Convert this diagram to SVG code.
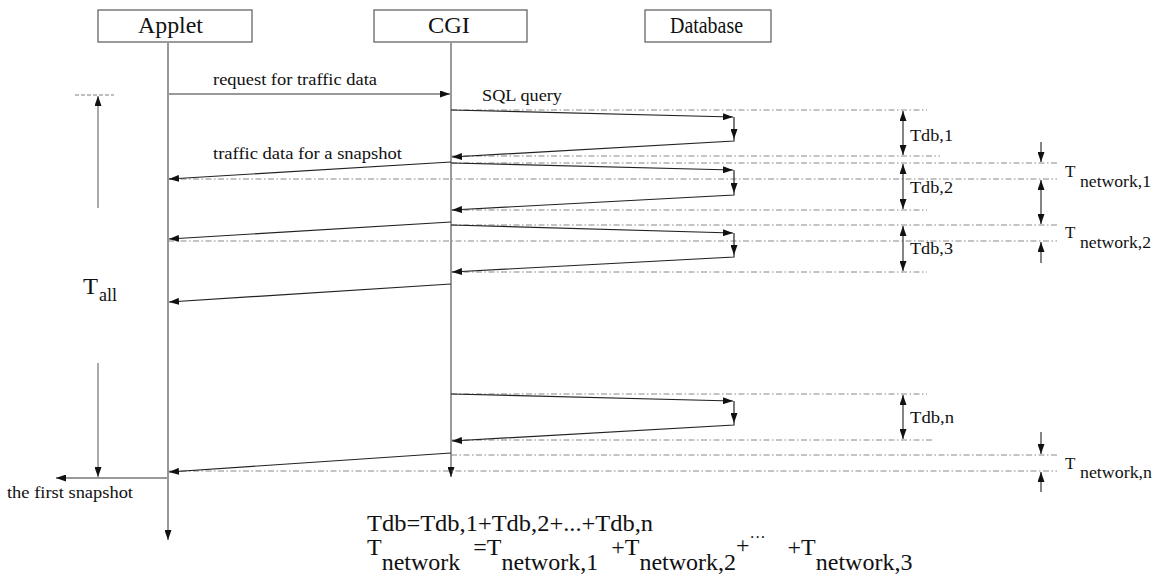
<svg xmlns="http://www.w3.org/2000/svg" width="1159" height="575" viewBox="0 0 1159 575" font-family="'Liberation Serif', 'Times New Roman', serif">
  <style>
    text { font-family: "Liberation Serif", "Times New Roman", serif; fill: #111; }
    .box { fill: #fff; stroke: #666; stroke-width: 1.3; }
    .life { fill: none; stroke: #999; stroke-width: 2; }
    .msg { fill: none; stroke: #222; stroke-width: 1.2; }
    .grid { fill: none; stroke: #888; stroke-width: 1; stroke-dasharray: 6 2.5 1.5 2.5; }
    .span { fill: none; stroke: #333; stroke-width: 1.2; }
    .title { font-size: 24px; }
    .lbl { font-size: 16px; }
    .tdb { font-size: 16px; }
    .f { font-size: 24px; }
  </style>
  <defs>
    <marker id="ah" markerUnits="userSpaceOnUse" markerWidth="10" markerHeight="7" refX="10" refY="3.5" orient="auto-start-reverse">
      <path d="M0,0 L10,3.5 L0,7 z" fill="#111"/>
    </marker>
  </defs>

  <!-- participants -->
  <g id="applet">
    <rect class="box" x="98" y="10" width="154" height="32"/>
    <text class="title" x="138" y="33" textLength="65" lengthAdjust="spacingAndGlyphs">Applet</text>
    <path class="life" d="M168,42 V540" stroke="#888" stroke-width="1.6" marker-end="url(#ah)"/>
  </g>
  <g id="cgi">
    <rect class="box" x="374" y="10" width="153" height="32"/>
    <text class="title" x="428" y="33" textLength="42" lengthAdjust="spacingAndGlyphs">CGI</text>
    <path class="life" d="M451,42 V477" stroke="#aaa" stroke-width="2.2" marker-end="url(#ah)"/>
  </g>
  <g id="database">
    <rect class="box" x="645" y="10" width="126" height="32"/>
    <text class="title" x="670" y="33" textLength="73" lengthAdjust="spacingAndGlyphs">Database</text>
  </g>

  <!-- reference lines for the timing spans -->
  <g id="timing-lines">
    <path class="grid" d="M451,110 H927"/>
    <path class="grid" d="M451,156 H940"/>
    <path class="grid" d="M451,163 H1057"/>
    <path class="grid" d="M168,179 H1057"/>
    <path class="grid" d="M451,210 H927"/>
    <path class="grid" d="M451,225 H1057"/>
    <path class="grid" d="M168,241 H1057"/>
    <path class="grid" d="M451,272 H927"/>
    <path class="grid" d="M451,394 H927"/>
    <path class="grid" d="M451,440 H933"/>
    <path class="grid" d="M451,455 H1057"/>
    <path class="grid" d="M168,471 H1057"/>
    <path d="M75,95 H114" fill="none" stroke="#aaa" stroke-width="1.5" stroke-dasharray="4 2"/>
  </g>

  <!-- messages -->
  <g id="connectors">
    <path d="M168,94 H450" fill="none" stroke="#999" stroke-width="2" marker-end="url(#ah)"/>
    <text class="lbl" x="213" y="85" textLength="164" lengthAdjust="spacingAndGlyphs">request for traffic data</text>
    <text x="482" y="101" font-size="17" textLength="80" lengthAdjust="spacingAndGlyphs">SQL query</text>

    <!-- query 1 -->
    <path class="msg" d="M451,110 L733,117" marker-end="url(#ah)"/>
    <path class="msg" d="M734,117 V139" marker-end="url(#ah)"/>
    <path class="msg" d="M734,139 V141 L452,157" marker-end="url(#ah)"/>
    <!-- query 2 -->
    <path class="msg" d="M451,163 L733,170" marker-end="url(#ah)"/>
    <path class="msg" d="M734,170 V193" marker-end="url(#ah)"/>
    <path class="msg" d="M734,193 V195 L452,210" marker-end="url(#ah)"/>
    <!-- query 3 -->
    <path class="msg" d="M451,225 L733,233" marker-end="url(#ah)"/>
    <path class="msg" d="M734,233 V255" marker-end="url(#ah)"/>
    <path class="msg" d="M734,255 V257 L452,272" marker-end="url(#ah)"/>
    <!-- query n -->
    <path class="msg" d="M451,394 L733,401" marker-end="url(#ah)"/>
    <path class="msg" d="M734,401 V423" marker-end="url(#ah)"/>
    <path class="msg" d="M734,423 V425 L452,441" marker-end="url(#ah)"/>

    <!-- snapshots sent back to the applet -->
    <path class="msg" d="M451,162 L169,179" marker-end="url(#ah)"/>
    <text class="lbl" x="213" y="159" textLength="189" lengthAdjust="spacingAndGlyphs">traffic data for a snapshot</text>
    <path class="msg" d="M451,222 L169,239" marker-end="url(#ah)"/>
    <path class="msg" d="M451,284 L169,302" marker-end="url(#ah)"/>
    <path class="msg" d="M451,453 L169,472" marker-end="url(#ah)"/>

    <path d="M168,478 H56" fill="none" stroke="#999" stroke-width="2" marker-end="url(#ah)"/>
    <text class="lbl" x="7" y="498" textLength="126" lengthAdjust="spacingAndGlyphs">the first snapshot</text>
  </g>

  <!-- overall time -->
  <g id="t-all">
    <path d="M98,208 V96" fill="none" stroke="#aaa" stroke-width="2" marker-end="url(#ah)"/>
    <path d="M98,363 V477" fill="none" stroke="#aaa" stroke-width="2" marker-end="url(#ah)"/>
    <text x="83" y="294" font-size="24" textLength="15" lengthAdjust="spacingAndGlyphs">T</text>
    <text x="99" y="301" font-size="18" textLength="18" lengthAdjust="spacingAndGlyphs">all</text>
  </g>

  <!-- database time spans -->
  <g id="t-db">
    <path class="span" d="M903,111 V155" marker-start="url(#ah)" marker-end="url(#ah)"/>
    <text class="tdb" x="910" y="141" textLength="43" lengthAdjust="spacingAndGlyphs">Tdb,1</text>
    <path class="span" d="M903,164 V209" marker-start="url(#ah)" marker-end="url(#ah)"/>
    <text class="tdb" x="910" y="193" textLength="43" lengthAdjust="spacingAndGlyphs">Tdb,2</text>
    <path class="span" d="M903,226 V271" marker-start="url(#ah)" marker-end="url(#ah)"/>
    <text class="tdb" x="910" y="254" textLength="43" lengthAdjust="spacingAndGlyphs">Tdb,3</text>
    <path class="span" d="M903,395 V439" marker-start="url(#ah)" marker-end="url(#ah)"/>
    <text class="tdb" x="910" y="423" textLength="44" lengthAdjust="spacingAndGlyphs">Tdb,n</text>
  </g>

  <!-- network time spans -->
  <g id="t-network">
    <path class="span" d="M1041,142 V162" marker-end="url(#ah)"/>
    <path class="span" d="M1041,180 V224" marker-start="url(#ah)" marker-end="url(#ah)"/>
    <path class="span" d="M1041,263 V242" marker-end="url(#ah)"/>
    <path class="span" d="M1041,432 V454" marker-end="url(#ah)"/>
    <path class="span" d="M1041,492 V472" marker-end="url(#ah)"/>
    <text x="1065" y="177" font-size="17">T</text>
    <text class="tdb" x="1080" y="187" textLength="71" lengthAdjust="spacingAndGlyphs">network,1</text>
    <text x="1065" y="238" font-size="17">T</text>
    <text class="tdb" x="1080" y="248" textLength="71" lengthAdjust="spacingAndGlyphs">network,2</text>
    <text x="1065" y="469" font-size="17">T</text>
    <text class="tdb" x="1080" y="478" textLength="72" lengthAdjust="spacingAndGlyphs">network,n</text>
  </g>

  <!-- totals -->
  <g id="formulas">
    <text class="f" x="367" y="531" textLength="286" lengthAdjust="spacingAndGlyphs">Tdb=Tdb,1+Tdb,2+...+Tdb,n</text>
    <text class="f" x="367" y="555">T<tspan dy="15">network</tspan><tspan dx="13" dy="-15">=T</tspan><tspan dy="15">network,1</tspan><tspan dx="13" dy="-15">+T</tspan><tspan dy="15">network,2</tspan><tspan dy="-17">+</tspan><tspan dy="-10" font-size="16">···</tspan><tspan dx="22" dy="12">+T</tspan><tspan dy="15">network,3</tspan></text>
  </g>
</svg>
